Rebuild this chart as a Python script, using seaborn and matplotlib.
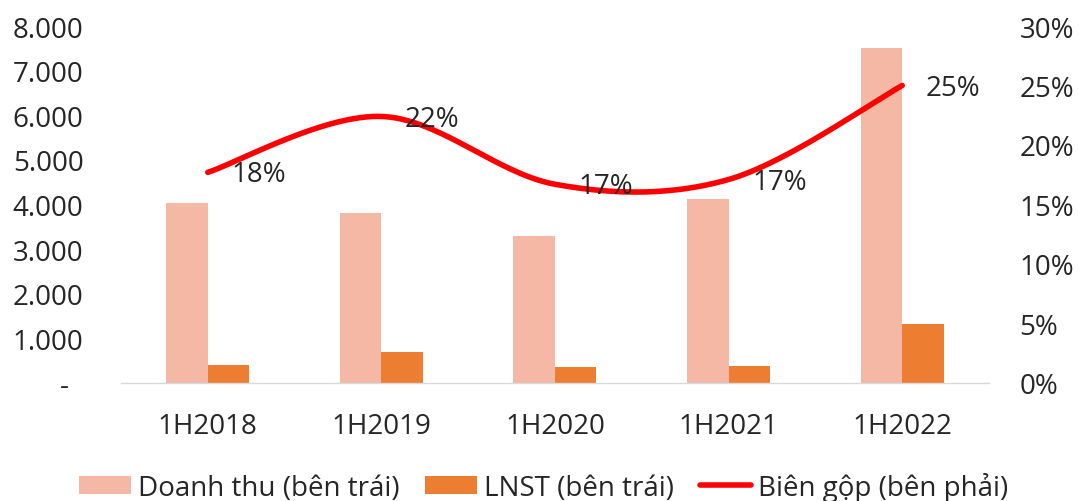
import numpy as np
import pandas as pd
import matplotlib
matplotlib.use("Agg")
import matplotlib.pyplot as plt
import seaborn as sns
from matplotlib.lines import Line2D

# ---------------- data ----------------
categories = ["1H2018", "1H2019", "1H2020", "1H2021", "1H2022"]
doanh_thu = [4040, 3810, 3290, 4130, 7500]
lnst = [400, 700, 360, 380, 1320]
bien_gop = [0.177, 0.224, 0.167, 0.171, 0.250]

series_names = ["Doanh thu (bên trái)", "LNST (bên trái)", "Biên gộp (bên phải)"]

left_ticks = [0, 1000, 2000, 3000, 4000, 5000, 6000, 7000, 8000]
left_tick_labels = ["-  ", "1.000", "2.000", "3.000", "4.000", "5.000", "6.000", "7.000", "8.000"]
right_ticks = [0.0, 0.05, 0.10, 0.15, 0.20, 0.25, 0.30]
right_tick_labels = ["0%", "5%", "10%", "15%", "20%", "25%", "30%"]

# ---------------- style ----------------
sns.set_style("white")
plt.rcParams["font.family"] = ["Open Sans", "DejaVu Sans"]
FS = 20

fig = plt.figure(figsize=(10.79, 5.02), dpi=100)
ax = fig.add_axes([0.1121, 0.2351, 0.8045, 0.7111])

df = pd.DataFrame({
    "cat": categories * 2,
    "value": doanh_thu + lnst,
    "series": [series_names[0]] * len(categories) + [series_names[1]] * len(categories),
})
sns.barplot(data=df, x="cat", y="value", hue="series",
            palette=["#F4B8A4", "#ED7D31"], width=0.478, gap=0,
            saturation=1, linewidth=0, ax=ax, legend=True)

ax.set_xlim(-0.5, len(categories) - 0.5)
ax.set_ylim(0, 8000)
ax.set_yticks(left_ticks, left_tick_labels)
ax.set_xlabel("")
ax.set_ylabel("")
ax.tick_params(axis="y", length=0, pad=27, labelsize=FS)
ax.tick_params(axis="x", length=0, pad=21, labelsize=FS)
for name, sp in ax.spines.items():
    if name == "bottom":
        sp.set_color("#D9D9D9")
        sp.set_linewidth(1.0)
    else:
        sp.set_visible(False)

# ---------------- smoothed line (Excel-like) on right axis ----------------
def smooth_curve(xs, ys, n=60):
    P = np.column_stack([xs, ys]).astype(float)
    out = []
    m = len(P)
    for i in range(m - 1):
        p0 = P[i - 1] if i > 0 else P[i]
        p3 = P[i + 2] if i + 2 < m else P[i + 1]
        c1 = P[i] + (P[i + 1] - p0) / 6.0
        c2 = P[i + 1] - (p3 - P[i]) / 6.0
        t = np.linspace(0, 1, n)[:, None]
        seg = ((1 - t) ** 3) * P[i] + 3 * ((1 - t) ** 2) * t * c1 + 3 * (1 - t) * t ** 2 * c2 + t ** 3 * P[i + 1]
        out.append(seg if i == 0 else seg[1:])
    out = np.vstack(out)
    return out[:, 0], out[:, 1]

ax2 = ax.twinx()
xpos = np.arange(len(categories))
cx, cy = smooth_curve(xpos, bien_gop)
ax2.plot(cx, cy, color="#FF0000", lw=4, solid_capstyle="round")
ax2.set_ylim(0, 0.30)
ax2.set_yticks(right_ticks, right_tick_labels)
ax2.tick_params(axis="y", length=0, pad=22, labelsize=FS)
for sp in ax2.spines.values():
    sp.set_visible(False)
ax2.set_xlim(-0.5, len(categories) - 0.5)

for i, v in enumerate(bien_gop):
    ax2.annotate(f"{round(v * 100):d}%", (xpos[i], v), xytext=(17, -1.5),
                 textcoords="offset points", ha="left", va="center", fontsize=FS)

# ---------------- legend ----------------
handles, labels = ax.get_legend_handles_labels()
if ax.get_legend() is not None:
    ax.get_legend().remove()
handles = list(handles) + [Line2D([0], [0], color="#FF0000", lw=4)]
labels = list(labels) + [series_names[2]]
fig.legend(handles, labels, loc="center", bbox_to_anchor=(0.504, 0.028), ncol=3,
           frameon=False, fontsize=FS, handlelength=1.86, handleheight=0.64,
           handletextpad=0.25, columnspacing=0.93)

fig.savefig("out.png", dpi=100)
